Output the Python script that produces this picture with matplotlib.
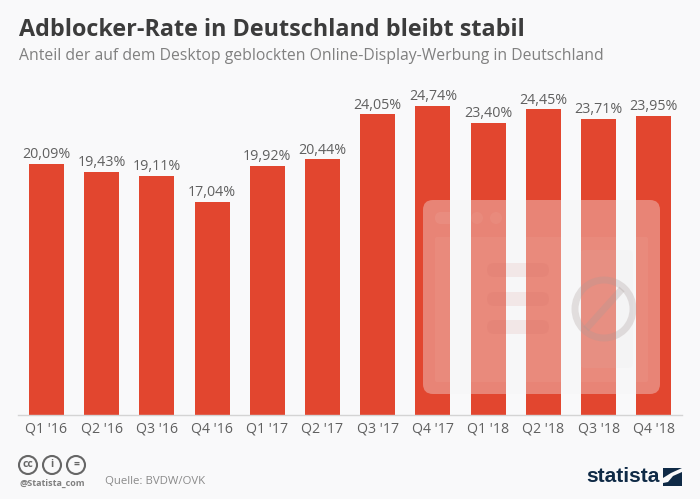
# Adblocker-Rate bar chart, statista style
import matplotlib
matplotlib.use('Agg')
import matplotlib.pyplot as plt
from matplotlib.patches import FancyBboxPatch, Circle, Rectangle, Polygon

quarters = ["Q1 '16", "Q2 '16", "Q3 '16", "Q4 '16", "Q1 '17", "Q2 '17",
            "Q3 '17", "Q4 '17", "Q1 '18", "Q2 '18", "Q3 '18", "Q4 '18"]
rates = [20.09, 19.43, 19.11, 17.04, 19.92, 20.44,
         24.05, 24.74, 23.40, 24.45, 23.71, 23.95]

W, H = 700, 499
BG = '#f9f9fa'
RED = '#e2462f'

plt.rcParams['font.family'] = ['Open Sans', 'DejaVu Sans']

fig = plt.figure(figsize=(W / 100, H / 100), dpi=100, facecolor=BG)

# Bar axes, baseline at y=415 px
ax = fig.add_axes([18 / W, 1 - 415 / H, 664 / W, 315 / H], facecolor='none')
ax.bar(range(len(rates)), rates, width=0.634, color=RED, zorder=2)
ax.set_xlim(-0.516, 11.51)
ax.set_ylim(0, 315 / 12.5)
for i, v in enumerate(rates):
    ax.text(i, v + 0.14, f'{v:.2f}%'.replace('.', ','), ha='center', va='bottom',
            fontsize=10.3, color='#606060')
ax.set_xticks(range(len(quarters)))
ax.set_xticklabels(quarters, fontsize=10.2, color='#606060')
ax.tick_params(axis='x', length=0, pad=5)
ax.set_yticks([])
for s in ['top', 'left', 'right']:
    ax.spines[s].set_visible(False)
ax.spines['bottom'].set_color('#d4d4d4')
ax.spines['bottom'].set_linewidth(1)

# Decoration layer in pixel coordinates
deco = fig.add_axes([0, 0, 1, 1], facecolor='none')
deco.set_xlim(0, W)
deco.set_ylim(H, 0)
deco.axis('off')


def pill(x0, y0, x1, y1, r, color, alpha):
    deco.add_patch(FancyBboxPatch((x0 + r, y0 + r), x1 - x0 - 2 * r, y1 - y0 - 2 * r,
                                  boxstyle=f'round,pad={r},rounding_size={r}',
                                  fc=color, ec='none', alpha=alpha))


# Browser window overlay
pill(423, 200, 660, 394, 10, '#f4f4f5', 0.36)
pill(435, 237, 648, 382, 2, '#ffffff', 0.05)
pill(435, 212, 465, 224, 6, '#ffffff', 0.07)
deco.add_patch(Circle((477, 218), 6, fc='#ffffff', ec='none', alpha=0.05))
deco.add_patch(Circle((496, 218), 6, fc='#ffffff', ec='none', alpha=0.05))
for y0 in [263, 292, 320]:
    pill(487, y0, 549, y0 + 14, 7, '#c9605a', 0.10)
pill(580, 250, 633, 368, 5, '#d8d8d8', 0.07)
deco.add_patch(Circle((604, 309), 29, fc='none', ec='#a89a98', lw=5, alpha=0.28))
deco.plot([586, 622], [329, 289], color='#a89a98', lw=5, alpha=0.28, solid_capstyle='butt')

# Title block
deco.text(19, 30, 'Adblocker-Rate in Deutschland bleibt stabil', fontsize=16.8, fontweight='bold',
          color='#3c3c3c', ha='left', va='center')
deco.text(19, 56, 'Anteil der auf dem Desktop geblockten Online-Display-Werbung in Deutschland',
          fontsize=11.3, color='#808080', ha='left', va='center')

# Creative commons icons
for cx, sym in zip([28, 52, 76], ['cc', 'i', '=']):
    deco.add_patch(Circle((cx, 465), 9, fc='none', ec='#666666', lw=1.5))
    deco.text(cx, 464.5, sym, fontsize=7.5, fontweight='bold', color='#666666',
              ha='center', va='center')
deco.text(19, 483, '@Statista_com', fontsize=6.5, fontweight='bold', color='#808080',
          ha='left', va='center')
deco.text(105, 482, 'Quelle: BVDW/OVK', fontsize=8.2, color='#8a8a8a', ha='left', va='center')

# statista logo
NAVY = '#0f2a46'
deco.text(586, 477, 'statista', fontsize=15, fontweight='bold', color=NAVY, ha='left', va='center',
          family=['Liberation Sans Narrow', 'Liberation Sans'])
deco.add_patch(Rectangle((663, 468), 19, 18, fc=NAVY, ec='none'))
deco.add_patch(Polygon([(663, 478), (671, 473), (682, 468), (682, 472), (673, 476), (668, 482), (663, 483)],
                       fc=BG, ec='none'))

fig.savefig('out.png', dpi=100, facecolor=BG)
